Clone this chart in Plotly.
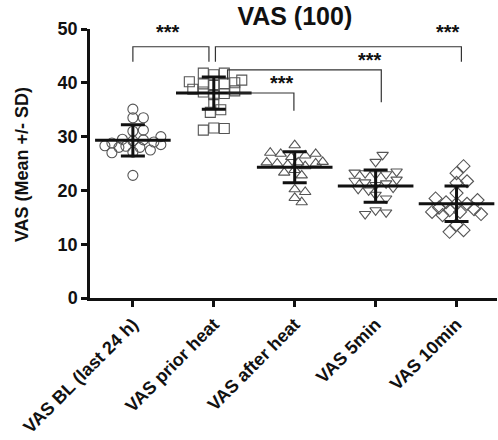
import numpy as np
import plotly.graph_objects as go

categories = ["VAS BL (last 24 h)", "VAS prior heat", "VAS after heat", "VAS 5min", "VAS 10min"]
vas_bl = [35.1, 33.5, 33.5, 31.2, 31.0, 30.0, 29.5, 29.4, 29.2, 29.0, 28.8, 28.5, 28.3, 28.2, 28.0, 28.0, 27.5, 27.1, 27.0, 22.8]
vas_prior = [41.8, 41.8, 41.5, 40.5, 40.2, 40.0, 39.8, 39.8, 39.5, 38.8, 38.5, 38.3, 38.0, 37.8, 36.2, 35.0, 34.5, 31.6, 31.2, 31.5]
vas_after = [28.4, 27.0, 26.8, 26.8, 26.5, 26.2, 25.3, 25.2, 25.2, 25.0, 25.0, 24.8, 24.5, 23.8, 23.3, 22.8, 20.2, 19.7, 18.6, 17.8]
vas_5min = [26.6, 25.3, 23.5, 23.3, 23.2, 23.0, 23.0, 22.0, 21.8, 21.5, 21.3, 21.0, 20.5, 20.3, 20.0, 19.2, 18.5, 16.3, 15.6, 15.9]
vas_10min = [24.5, 23.2, 21.7, 21.4, 19.5, 18.5, 18.2, 17.8, 17.5, 17.5, 16.8, 16.5, 16.3, 16.0, 16.0, 15.6, 15.4, 13.6, 12.3, 12.6]
means = [29.3, 38.1, 24.3, 20.8, 17.5]
sds = [2.9, 3.0, 2.9, 3.0, 3.3]
groups = [vas_bl, vas_prior, vas_after, vas_5min, vas_10min]
symbols = ["circle-open", "square-open", "triangle-up-open", "triangle-down-open", "diamond-open"]
y_ticks = [0, 10, 20, 30, 40, 50]

# significance brackets: (x_left, x_right, y_top, y_left_leg, y_right_leg, label_x, label_y)
brackets = [
    (0.0, 0.94, 46.7, 43.9, 43.9, 0.43, 49.5),
    (1.02, 4.06, 46.7, 43.9, 43.9, 3.89, 49.5),
    (1.17, 3.07, 42.4, 40.6, 36.4, 2.93, 44.3),
    (1.17, 1.99, 38.1, 38.1, 34.8, 1.84, 39.9),
]
star_label = "***"

PX_X = 81.0   # pixels per category
PX_Y = 5.38   # pixels per VAS unit
DIAM = 8.0


def swarm(values):
    vals = np.array(values)
    order = np.argsort(np.abs(vals - vals.mean()))
    placed = []
    offs = np.zeros(len(vals))
    cands = [0.0]
    for k in range(1, 9):
        cands += [k * 3.5, -k * 3.5]
    for i in order:
        yv = vals[i] * PX_Y
        best, best_d = None, -1
        for c in cands:
            d = min([np.hypot(c - ox, yv - oy) for ox, oy in placed] or [99])
            if d >= DIAM:
                best = c
                break
            if d > best_d:
                best_d, best = d, c
        placed.append((best, yv))
        offs[i] = best / PX_X
    return offs


fig = go.Figure()
for gi, vals in enumerate(groups):
    offs = swarm(vals)
    fig.add_trace(go.Scatter(
        x=gi + offs, y=vals, mode="markers",
        marker=dict(symbol=symbols[gi], size=10, color="#555555", line=dict(width=1.1, color="#555555")),
        showlegend=False, hoverinfo="y"))

fig.add_trace(go.Scatter(
    x=list(range(len(categories))), y=means, mode="markers",
    marker=dict(symbol="line-ew-open", size=54, color="#111111", line=dict(width=3, color="#111111")),
    error_y=dict(type="data", array=sds, visible=True, thickness=3, width=12, color="#111111"),
    showlegend=False))

for (xl, xr, yt, yl, yr, lx, ly) in brackets:
    fig.add_shape(type="path",
                  path=f"M {xl},{yl} L {xl},{yt} L {xr},{yt} L {xr},{yr}",
                  line=dict(color="#333333", width=1.2), layer="above")
    fig.add_annotation(x=lx, y=ly, text=star_label, showarrow=False,
                       font=dict(family="Liberation Sans", size=20, color="#111111", weight="bold"),
                       xanchor="center", yanchor="middle")

fig.add_annotation(xref="paper", yref="paper", x=0, y=0.494, xshift=-68, xanchor="center", yanchor="middle",
                   text="VAS (Mean +/- SD)", textangle=-90, showarrow=False,
                   font=dict(family="Liberation Sans", size=18, weight="bold", color="#111111"))

fig.update_layout(
    width=498, height=440,
    margin=dict(l=90, r=1, t=29, b=142),
    paper_bgcolor="white", plot_bgcolor="white",
    font=dict(family="Liberation Sans", color="#111111"),
    title=dict(text="VAS (100)", xref="container", yref="container", x=0.592, xanchor="center",
               y=0.964, yanchor="middle", automargin=False,
               font=dict(family="Liberation Sans", size=25, weight="bold", color="#111111")),
)
fig.update_xaxes(
    range=[-0.53, 4.5], tickmode="array", tickvals=list(range(len(categories))), ticktext=categories,
    tickangle=-45, showgrid=False, zeroline=False, showline=True, linecolor="#111111", linewidth=2.5,
    ticks="outside", ticklen=6, tickwidth=2.5, tickcolor="#111111", automargin=False,
    tickfont=dict(family="Liberation Sans", size=18, weight="bold", color="#111111"))
fig.update_yaxes(
    range=[0, 50], tickmode="array", tickvals=y_ticks, showgrid=False, zeroline=False,
    showline=True, linecolor="#111111", linewidth=2.5, automargin=False,
    ticks="outside", ticklen=6, tickwidth=2.5, tickcolor="#111111",
    tickfont=dict(family="Liberation Sans", size=18, weight="bold", color="#111111"))

fig.write_html("out.html", config={"displayModeBar": False},
               post_script="document.body.style.margin='0';document.body.style.padding='0';document.body.style.overflow='hidden';")
